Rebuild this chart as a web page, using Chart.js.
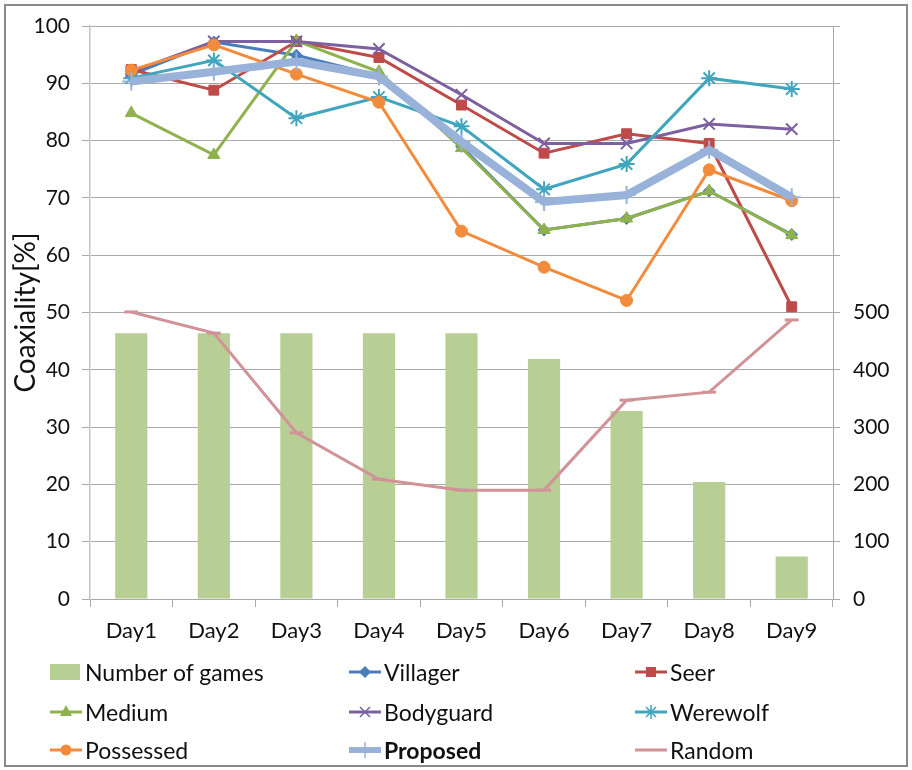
<!DOCTYPE html>
<html><head><meta charset="utf-8">
<script src="https://cdn.jsdelivr.net/npm/chart.js@4/dist/chart.umd.min.js"></script>
<style>
html,body{margin:0;padding:0;background:#fff;}
#wrap{position:relative;width:912px;height:770px;overflow:hidden;background:#fff;}
#frame{position:absolute;left:4px;top:4px;width:900px;height:759px;border:2px solid #8a8a8a;pointer-events:none;}
canvas{position:absolute;left:0;top:0;}
.lg{position:absolute;font-family:Lato,sans-serif;font-size:23px;color:#111;display:flex;align-items:center;white-space:nowrap;height:30px;}
.lg svg{margin-right:3px;flex:none;}
</style></head><body>
<div id="wrap"><canvas id="c" width="912" height="770"></canvas><div id="frame"></div><div id="legend"></div></div>
<script>
const categories = ['Day1','Day2','Day3','Day4','Day5','Day6','Day7','Day8','Day9'];
const numberOfGames = [464, 464, 464, 464, 464, 419, 328, 204, 74];
const villager  = [91.5, 97.2, 94.9, 91.3, 79.0, 64.4, 66.4, 71.2, 63.6];
const seer      = [92.4, 88.8, 97.3, 94.5, 86.2, 77.8, 81.2, 79.5, 51.0];
const medium    = [84.8, 77.5, 97.4, 92.0, 78.7, 64.4, 66.4, 71.2, 63.5];
const bodyguard = [92.0, 97.3, 97.3, 96.0, 88.0, 79.5, 79.5, 82.9, 82.0];
const werewolf  = [90.9, 94.0, 83.9, 87.6, 82.5, 71.5, 75.9, 90.9, 89.0];
const possessed = [92.3, 96.7, 91.6, 86.7, 64.2, 57.9, 52.1, 74.9, 69.5];
const proposed  = [90.3, 92.0, 93.8, 91.2, 79.8, 69.3, 70.5, 78.4, 70.1];
const random    = [50.1, 46.4, 29.0, 20.9, 19.0, 19.0, 34.7, 36.1, 48.7];
const leftTicks = [0,10,20,30,40,50,60,70,80,90,100];
const rightTicksShown = [0,100,200,300,400,500];

const FONT = 'Lato';
const GRID = '#a9a9a9';

const C = {
  bar:'#b7cf95', villager:'#4a7ebb', seer:'#be4b48', medium:'#8fb24c', bodyguard:'#7d60a0',
  werewolf:'#41a6bd', possessed:'#f28c3c', proposed:'#98b2d9', random:'#d19397'
};

function lineDs(label, data, color, style, radius, order, extra){
  return Object.assign({
    type:'line', label, data, yAxisID:'y', borderColor:color, backgroundColor:color,
    borderWidth:3, pointStyle:style, pointRadius:radius, pointBorderColor:color,
    pointBackgroundColor:color, pointBorderWidth:1, tension:0, order
  }, extra||{});
}

const datasets = [
  {type:'bar', label:'Number of games', data:numberOfGames, yAxisID:'y1', backgroundColor:C.bar,
   barPercentage:0.39, categoryPercentage:1, order:9},
  lineDs('Villager', villager, C.villager, 'rectRot', 6, 8),
  lineDs('Seer', seer, C.seer, 'rect', 7, 7),
  lineDs('Medium', medium, C.medium, 'triangle', 7, 6),
  lineDs('Bodyguard', bodyguard, C.bodyguard, 'crossRot', 8, 5, {pointBorderWidth:2}),
  lineDs('Werewolf', werewolf, C.werewolf, 'star', 8, 4, {pointBorderWidth:2}),
  lineDs('Possessed', possessed, C.possessed, 'circle', 6, 3),
  lineDs('Proposed', proposed, C.proposed, 'cross', 9, 2, {borderWidth:8, pointBorderWidth:2}),
  lineDs('Random', random, C.random, 'line', 7, 1, {pointBorderWidth:3})
];

new Chart(document.getElementById('c'), {
  data:{labels:categories, datasets},
  options:{
    responsive:false, animation:false, devicePixelRatio:1,
    layout:{padding:{left:0,right:0,top:26,bottom:0}},
    plugins:{legend:{display:false}, tooltip:{enabled:false}},
    scales:{
      x:{
        offset:true,
        grid:{offset:true, drawOnChartArea:false, drawTicks:true, tickLength:8, color:GRID},
        border:{color:GRID, width:1},
        ticks:{font:{family:FONT,size:22}, color:'#111', padding:11, maxRotation:0},
        afterFit:(s)=>{ s.height = 770-599; }
      },
      y:{
        position:'left', min:0, max:100,
        afterBuildTicks:(s)=>{ s.ticks = leftTicks.map(v=>({value:v})); },
        grid:{color:GRID, tickLength:8, lineWidth:1},
        border:{color:'#c4c4c4', width:1.5},
        ticks:{font:{family:FONT,size:21}, color:'#111', padding:12},
        title:{display:true, text:'Coaxiality[%]', font:{family:FONT,size:28}, color:'#111', padding:{top:9,bottom:0}},
        afterFit:(s)=>{ s.width = 90; }
      },
      y1:{
        position:'right', min:0, max:1000,
        afterBuildTicks:(s)=>{ const a=[]; for(let v=0;v<=1000;v+=100) a.push({value:v}); s.ticks=a; },
        grid:{drawOnChartArea:false, tickLength:7, color:GRID},
        border:{color:GRID, width:1},
        ticks:{font:{family:FONT,size:21}, color:'#111', padding:13,
          callback:(v)=> rightTicksShown.includes(v) ? String(v) : ''},
        afterFit:(s)=>{ s.width = 912-833; }
      }
    }
  }
});

// HTML legend (3 columns)
const legendItems = [
  {label:'Number of games', kind:'box', color:C.bar},
  {label:'Villager', kind:'diamond', color:C.villager},
  {label:'Seer', kind:'square', color:C.seer},
  {label:'Medium', kind:'triangle', color:C.medium},
  {label:'Bodyguard', kind:'x', color:C.bodyguard},
  {label:'Werewolf', kind:'star', color:C.werewolf},
  {label:'Possessed', kind:'circle', color:C.possessed},
  {label:'Proposed', kind:'plus', color:C.proposed, bold:true},
  {label:'Random', kind:'line', color:C.random}
];
const colX = [50, 349, 635];
const rowY = [672, 712, 750];
function marker(kind, c){
  let s = '<svg width="32" height="22" viewBox="0 0 32 22">';
  if(kind==='box'){ return s + `<rect x="0" y="3" width="30" height="16" fill="${c}"/></svg>`; }
  const lw = kind==='plus' ? 6 : 3;
  s += `<line x1="0" y1="11" x2="32" y2="11" stroke="${c}" stroke-width="${lw}"/>`;
  if(kind==='diamond') s += `<polygon points="16,5 22,11 16,17 10,11" fill="${c}"/>`;
  if(kind==='square') s += `<rect x="11" y="6" width="10" height="10" fill="${c}"/>`;
  if(kind==='triangle') s += `<polygon points="16,4 22,15 10,15" fill="${c}"/>`;
  if(kind==='circle') s += `<circle cx="16" cy="11" r="5.5" fill="${c}"/>`;
  if(kind==='x') s += `<path d="M11,6 L21,16 M21,6 L11,16" stroke="${c}" stroke-width="1.5"/>`;
  if(kind==='star') s += `<path d="M11,6 L21,16 M21,6 L11,16 M16,4 L16,18" stroke="${c}" stroke-width="1.5"/>`;
  if(kind==='plus') s += `<path d="M16,3 L16,19" stroke="${c}" stroke-width="1.5"/>`;
  return s + '</svg>';
}
const lg = document.getElementById('legend');
legendItems.forEach((it,i)=>{
  const d = document.createElement('div');
  d.className='lg';
  d.style.left = colX[i%3]+'px';
  d.style.top = (rowY[Math.floor(i/3)]-15)+'px';
  d.innerHTML = marker(it.kind, it.color) + `<span style="${it.bold?'font-weight:bold':''}">${it.label}</span>`;
  lg.appendChild(d);
});
</script>
</body></html>
